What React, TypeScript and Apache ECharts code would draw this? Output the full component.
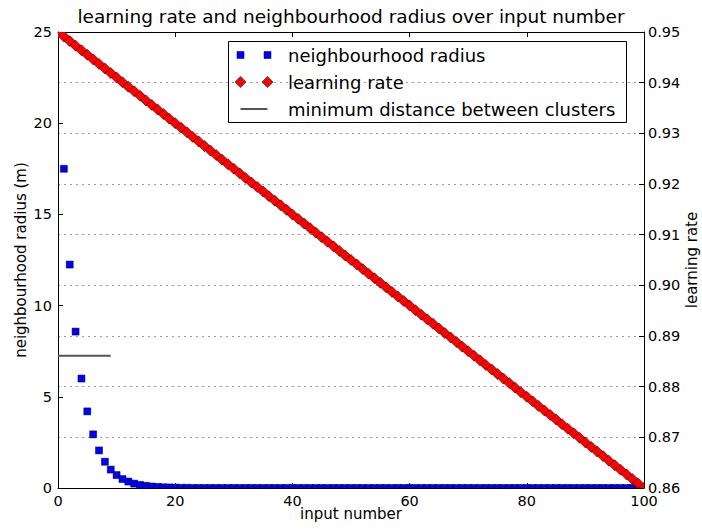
import React, { useEffect, useRef } from 'react';
import * as echarts from 'echarts';

const titleText = 'learning rate and neighbourhood radius over input number';
const xAxisName = 'input number';
const leftAxisName = 'neighbourhood radius (m)';
const rightAxisName = 'learning rate';
const legendLabels = ['neighbourhood radius', 'learning rate', 'minimum distance between clusters'];

// input number range and axis ranges
const inputMin = 0;
const inputMax = 100;
const inputStep = 20;
const radiusMin = 0;
const radiusMax = 25;
const radiusStep = 5;
const rateMin = 0.86;
const rateMax = 0.95;
const rateStep = 0.01;

// learning rate for inputs 0..100
const learningRate = [
  0.9500, 0.9491, 0.9482, 0.9473, 0.9464, 0.9455, 0.9446, 0.9437, 0.9428, 0.9419,
  0.9410, 0.9401, 0.9392, 0.9383, 0.9374, 0.9365, 0.9356, 0.9347, 0.9338, 0.9329,
  0.9320, 0.9311, 0.9302, 0.9293, 0.9284, 0.9275, 0.9266, 0.9257, 0.9248, 0.9239,
  0.9230, 0.9221, 0.9212, 0.9203, 0.9194, 0.9185, 0.9176, 0.9167, 0.9158, 0.9149,
  0.9140, 0.9131, 0.9122, 0.9113, 0.9104, 0.9095, 0.9086, 0.9077, 0.9068, 0.9059,
  0.9050, 0.9041, 0.9032, 0.9023, 0.9014, 0.9005, 0.8996, 0.8987, 0.8978, 0.8969,
  0.8960, 0.8951, 0.8942, 0.8933, 0.8924, 0.8915, 0.8906, 0.8897, 0.8888, 0.8879,
  0.8870, 0.8861, 0.8852, 0.8843, 0.8834, 0.8825, 0.8816, 0.8807, 0.8798, 0.8789,
  0.8780, 0.8771, 0.8762, 0.8753, 0.8744, 0.8735, 0.8726, 0.8717, 0.8708, 0.8699,
  0.8690, 0.8681, 0.8672, 0.8663, 0.8654, 0.8645, 0.8636, 0.8627, 0.8618, 0.8609,
  0.8600,
];

// neighbourhood radius for inputs 1..99
const neighbourhoodRadius = [
  17.5, 12.25, 8.575, 6.0, 4.2, 2.94, 2.06, 1.44, 1.01, 0.71,
  0.49, 0.35, 0.24, 0.17, 0.12, 0.08, 0.06, 0.04, 0.03, 0.02,
  0.01, 0.01, 0, 0, 0, 0, 0, 0, 0, 0,
  0, 0, 0, 0, 0, 0, 0, 0, 0, 0,
  0, 0, 0, 0, 0, 0, 0, 0, 0, 0,
  0, 0, 0, 0, 0, 0, 0, 0, 0, 0,
  0, 0, 0, 0, 0, 0, 0, 0, 0, 0,
  0, 0, 0, 0, 0, 0, 0, 0, 0, 0,
  0, 0, 0, 0, 0, 0, 0, 0, 0, 0,
  0, 0, 0, 0, 0, 0, 0, 0, 0,
];
const radiusFirstInput = 1;

// minimum distance between clusters, drawn over the first inputs
const minDistance = 7.25;
const minDistanceInputs = [0, 9];

const FONT = 'DejaVu Sans';
const BLUE = '#0000ff';
const RED = '#ff0000';
const LINE_GREY = '#555555';

const squareHalf = 3.5;
const diamondHalf = 5.5;

export default function App() {
  const ref = useRef<HTMLDivElement>(null);

  useEffect(() => {
    if (!ref.current) return;
    document.documentElement.style.overflow = 'hidden';
    document.body.style.margin = '0';
    document.body.style.overflow = 'hidden';
    const chart = echarts.init(ref.current, undefined, { renderer: 'svg', width: 702, height: 529 });

    const radiusData = neighbourhoodRadius.map((v, i) => [i + radiusFirstInput, v]);
    const rateData = learningRate.map((v, i) => [i, v]);
    const minDistanceData = minDistanceInputs.map((x) => [x, minDistance]);

    const tickCommon = { show: true, inside: true, length: 5, lineStyle: { color: '#000', width: 1 } };
    const axisLineCommon = { show: true, onZero: false, lineStyle: { color: '#000', width: 1 } };
    const labelCommon = { color: '#000', fontFamily: FONT, fontSize: 14.5 };
    const nameCommon = { color: '#000', fontFamily: FONT, fontSize: 15 };

    // legend frame and entries
    const lx1 = 240.5;
    const lx2 = 267.5;
    const rows = [55, 82, 109];
    const textX = 288;
    const diamondPts = (cx: number, cy: number) => [
      [cx - diamondHalf, cy],
      [cx, cy - diamondHalf],
      [cx + diamondHalf, cy],
      [cx, cy + diamondHalf],
    ];
    const legendGraphics: any[] = [
      {
        type: 'rect',
        shape: { x: 228.5, y: 41.5, width: 398, height: 81 },
        style: { fill: 'none', stroke: '#000', lineWidth: 1 },
        z: 100,
      },
      ...[lx1, lx2].map((cx) => ({
        type: 'rect',
        shape: { x: cx - squareHalf, y: rows[0] - squareHalf, width: squareHalf * 2, height: squareHalf * 2 },
        style: { fill: BLUE, stroke: '#000', lineWidth: 0.5 },
        z: 100,
      })),
      ...[lx1, lx2].map((cx) => ({
        type: 'polygon',
        shape: { points: diamondPts(cx, rows[1]) },
        style: { fill: RED, stroke: '#000', lineWidth: 0.5 },
        z: 100,
      })),
      {
        type: 'line',
        shape: { x1: lx1, y1: rows[2], x2: lx2, y2: rows[2] },
        style: { stroke: LINE_GREY, lineWidth: 2 },
        z: 100,
      },
      ...legendLabels.map((t, i) => ({
        type: 'text',
        x: textX,
        y: rows[i],
        style: {
          text: t,
          fontFamily: FONT,
          fontSize: 18,
          fill: '#000',
          textVerticalAlign: 'middle',
          verticalAlign: 'middle',
        },
        z: 100,
      })),
    ];

    chart.setOption({
      animation: false,
      backgroundColor: '#ffffff',
      title: {
        text: titleText,
        left: 'center',
        top: 2,
        textStyle: { color: '#000', fontFamily: FONT, fontSize: 18.5, fontWeight: 'normal' },
      },
      grid: { left: 58, right: 58, top: 32, bottom: 41, containLabel: false, outerBoundsMode: 'none' },
      xAxis: [
        {
          type: 'value',
          min: inputMin,
          max: inputMax,
          interval: inputStep,
          position: 'bottom',
          name: xAxisName,
          nameLocation: 'middle',
          nameGap: 18,
          nameMoveOverlap: false,
          nameTextStyle: nameCommon,
          axisLine: axisLineCommon,
          axisTick: tickCommon,
          axisLabel: { ...labelCommon, margin: 5 },
          splitLine: { show: false },
        },
        {
          type: 'value',
          min: inputMin,
          max: inputMax,
          interval: inputStep,
          position: 'top',
          axisLine: axisLineCommon,
          axisTick: tickCommon,
          axisLabel: { show: false },
          splitLine: { show: false },
        },
      ],
      yAxis: [
        {
          type: 'value',
          min: radiusMin,
          max: radiusMax,
          interval: radiusStep,
          position: 'left',
          name: leftAxisName,
          nameLocation: 'middle',
          nameRotate: 90,
          nameGap: 30,
          nameMoveOverlap: false,
          nameTextStyle: nameCommon,
          axisLine: axisLineCommon,
          axisTick: tickCommon,
          axisLabel: { ...labelCommon, margin: 6 },
          splitLine: { show: false },
        },
        {
          type: 'value',
          min: rateMin,
          max: rateMax,
          interval: rateStep,
          position: 'right',
          name: rightAxisName,
          nameLocation: 'middle',
          nameRotate: 90,
          nameGap: 40,
          nameMoveOverlap: false,
          nameTextStyle: nameCommon,
          axisLine: axisLineCommon,
          axisTick: tickCommon,
          axisLabel: { ...labelCommon, margin: 4, formatter: (v: number) => v.toFixed(2) },
          splitLine: { show: true, lineStyle: { color: '#999', width: 1, type: [2, 4] } },
        },
      ],
      graphic: legendGraphics,
      series: [
        {
          name: legendLabels[0],
          type: 'custom',
          xAxisIndex: 0,
          yAxisIndex: 0,
          clip: true,
          z: 3,
          encode: { x: 0, y: 1 },
          data: radiusData,
          renderItem: (params: any, api: any) => {
            const [x, y] = api.coord([api.value(0), api.value(1)]);
            return {
              type: 'rect',
              shape: { x: x - squareHalf, y: y - squareHalf, width: squareHalf * 2, height: squareHalf * 2 },
              style: { fill: BLUE, stroke: '#000', lineWidth: 0.5 },
            };
          },
        },
        {
          name: legendLabels[1],
          type: 'custom',
          xAxisIndex: 0,
          yAxisIndex: 1,
          clip: true,
          z: 4,
          encode: { x: 0, y: 1 },
          data: rateData,
          renderItem: (params: any, api: any) => {
            const [x, y] = api.coord([api.value(0), api.value(1)]);
            return {
              type: 'polygon',
              shape: { points: diamondPts(x, y) },
              style: { fill: RED, stroke: '#000', lineWidth: 0.5 },
            };
          },
        },
        {
          name: legendLabels[2],
          type: 'line',
          xAxisIndex: 0,
          yAxisIndex: 0,
          z: 5,
          symbol: 'none',
          data: minDistanceData,
          lineStyle: { color: LINE_GREY, width: 2 },
        },
      ],
    });

    return () => chart.dispose();
  }, []);

  return (
    <div
      ref={ref}
      style={{ position: 'fixed', left: 0, top: 0, width: 702, height: 529, background: '#fff' }}
    />
  );
}
